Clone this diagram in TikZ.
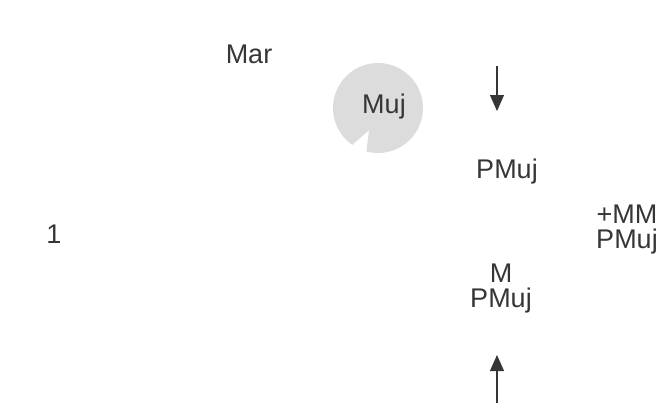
\documentclass[tikz,border=0pt]{standalone}
\usepackage{fontspec}
\setmainfont{Liberation Sans}
\usetikzlibrary{arrows.meta,positioning}
\definecolor{ink}{HTML}{363636}
\definecolor{disc}{HTML}{DCDCDC}

\begin{document}
\begin{tikzpicture}[x=1pt,y=-1pt,
    lbl/.style={font=\fontsize{27}{25}\selectfont,color=ink,inner sep=0pt,align=center,anchor=base},
    arr/.style={draw=ink,line width=1.2pt,-{Triangle[length=16pt,width=14pt]}}
]
\useasboundingbox (0,0) rectangle (665,408);
\begin{scope}[shift={(378,108)}]
\fill[disc] (125:45) arc[start angle=125,end angle=465,radius=45] -- (112:24) -- cycle;
\end{scope}
\node[lbl] (mar) at (249,63) {Mar};
\node[lbl] (muj) at (384,113) {Muj};
\node[lbl] (one) at (54,243) {1};
\node[lbl] (pmuj) at (507,178) {PMuj};
\node[lbl] (mmpmuj) at (627,248) {+MM\\PMuj};
\node[lbl] (mpmuj) at (501,307) {M\\PMuj};
\coordinate (dtop) at (497,66);
\coordinate (dtip) at (497,111);
\coordinate (ubot) at (497,403);
\coordinate (utip) at (497,355);
\draw[arr] (dtop) -- (dtip);
\draw[arr] (ubot) -- (utip);
\end{tikzpicture}
\end{document}
